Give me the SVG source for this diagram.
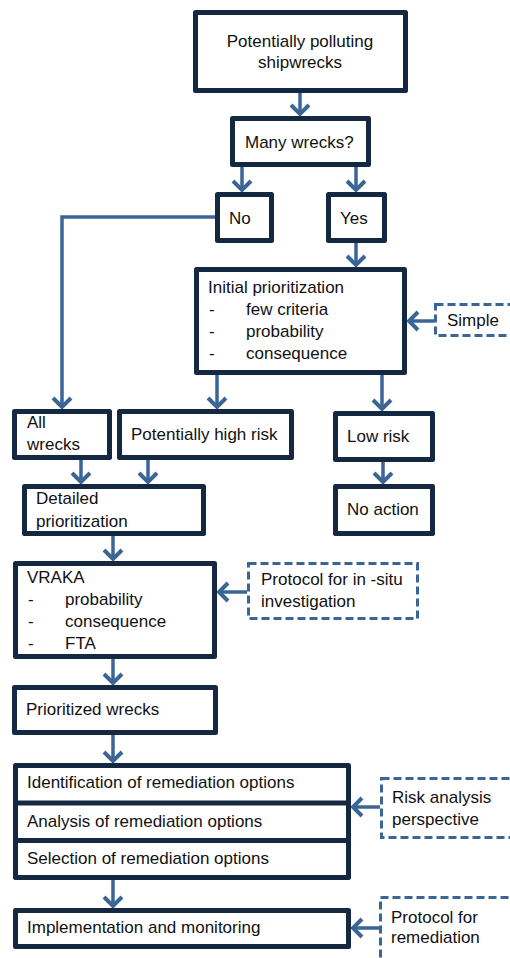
<svg xmlns="http://www.w3.org/2000/svg" width="510" height="958" viewBox="0 0 510 958">
<style>
.box{fill:#fff;stroke:#142841;stroke-width:5;stroke-linejoin:round}
.dash{fill:#fff;stroke:#3b6597;stroke-width:3;stroke-dasharray:8 4}
.sep{stroke:#142841;stroke-width:5}
.con{fill:none;stroke:#3b6597;stroke-width:3.5;marker-end:url(#ah)}
text{font-family:"Liberation Sans",Arial,sans-serif;font-size:17px;fill:#111}
</style>
<defs>
<marker id="ah" markerUnits="userSpaceOnUse" markerWidth="30" markerHeight="30" viewBox="-15 -15 30 30" refX="0" refY="0" orient="auto">
<path d="M-9,-9 L0,0 L-9,9" fill="none" stroke="#3b6597" stroke-width="4"/>
</marker>
</defs>
<g id="connectors">
<path class="con" d="M300,93 V114"/>
<path class="con" d="M242,167 V190"/>
<path class="con" d="M356,167 V190"/>
<path class="con" d="M215,217 H62 V407"/>
<path class="con" d="M356,243 V265"/>
<path class="con" d="M217,375 V407"/>
<path class="con" d="M382,375 V409"/>
<path class="con" d="M434,321 H409"/>
<path class="con" d="M81,460 V482"/>
<path class="con" d="M148,460 V482"/>
<path class="con" d="M383,462 V482"/>
<path class="con" d="M113,536 V559"/>
<path class="con" d="M247,592 H219"/>
<path class="con" d="M113,659 V683"/>
<path class="con" d="M113,735 V761"/>
<path class="con" d="M380,807 H353"/>
<path class="con" d="M113,880 V906"/>
<path class="con" d="M379,928 H353"/>
</g>
<g id="n-start"><rect class="box" x="195.5" y="12.5" width="210" height="78"/><text x="300" y="47" text-anchor="middle">Potentially polluting</text><text x="300" y="68" text-anchor="middle">shipwrecks</text></g>
<g id="n-many"><rect class="box" x="232.5" y="118.5" width="136" height="46"/><text x="245" y="148">Many wrecks?</text></g>
<g id="n-no"><rect class="box" x="217.5" y="194.5" width="54" height="46"/><text x="229" y="224">No</text></g>
<g id="n-yes"><rect class="box" x="328.5" y="194.5" width="56" height="46"/><text x="340" y="224">Yes</text></g>
<g id="n-initial"><rect class="box" x="196.5" y="269.5" width="208" height="103"/>
<text x="208" y="293">Initial prioritization</text>
<text x="209" y="315">-</text><text x="246" y="315">few criteria</text>
<text x="209" y="337">-</text><text x="246" y="337">probability</text>
<text x="209" y="359">-</text><text x="246" y="359">consequence</text></g>
<g id="n-simple"><rect class="dash" x="435.5" y="304.5" width="80" height="31"/><text x="447" y="326">Simple</text></g>
<g id="n-all"><rect class="box" x="14.5" y="411.5" width="95" height="46"/><text x="27" y="428">All</text><text x="27" y="450">wrecks</text></g>
<g id="n-high"><rect class="box" x="119.5" y="411.5" width="172" height="46"/><text x="131" y="440">Potentially high risk</text></g>
<g id="n-low"><rect class="box" x="335.5" y="413.5" width="97" height="46"/><text x="347" y="442">Low risk</text></g>
<g id="n-noaction"><rect class="box" x="335.5" y="486.5" width="97" height="47"/><text x="347" y="515">No action</text></g>
<g id="n-detailed"><rect class="box" x="24.5" y="486.5" width="179" height="47"/><text x="36" y="504">Detailed</text><text x="36" y="527">prioritization</text></g>
<g id="n-vraka"><rect class="box" x="15.5" y="563.5" width="199" height="93"/>
<text x="27" y="583">VRAKA</text>
<text x="28" y="605">-</text><text x="65" y="605">probability</text>
<text x="28" y="627">-</text><text x="65" y="627">consequence</text>
<text x="28" y="649">-</text><text x="65" y="649">FTA</text></g>
<g id="n-insitu"><rect class="dash" x="248.5" y="563.5" width="169" height="55"/><text x="261" y="585">Protocol for in -situ</text><text x="261" y="607">investigation</text></g>
<g id="n-prioritized"><rect class="box" x="14.5" y="687.5" width="201" height="45"/><text x="26" y="715">Prioritized wrecks</text></g>
<g id="n-remediation"><rect class="box" x="15.5" y="765.5" width="333" height="112"/>
<line class="sep" x1="15.5" y1="803" x2="348.5" y2="803"/>
<line class="sep" x1="15.5" y1="840.5" x2="348.5" y2="840.5"/>
<text x="27" y="788">Identification of remediation options</text>
<text x="27" y="827">Analysis of remediation options</text>
<text x="27" y="864">Selection of remediation options</text></g>
<g id="n-risk"><rect class="dash" x="381.5" y="778.5" width="140" height="59"/><text x="392" y="803">Risk analysis</text><text x="392" y="825">perspective</text></g>
<g id="n-impl"><rect class="box" x="15.5" y="910.5" width="333" height="36"/><text x="27" y="933">Implementation and monitoring</text></g>
<g id="n-protrem"><rect class="dash" x="380.5" y="897.5" width="140" height="70"/><text x="391" y="923">Protocol for</text><text x="391" y="943">remediation</text></g>
</svg>
